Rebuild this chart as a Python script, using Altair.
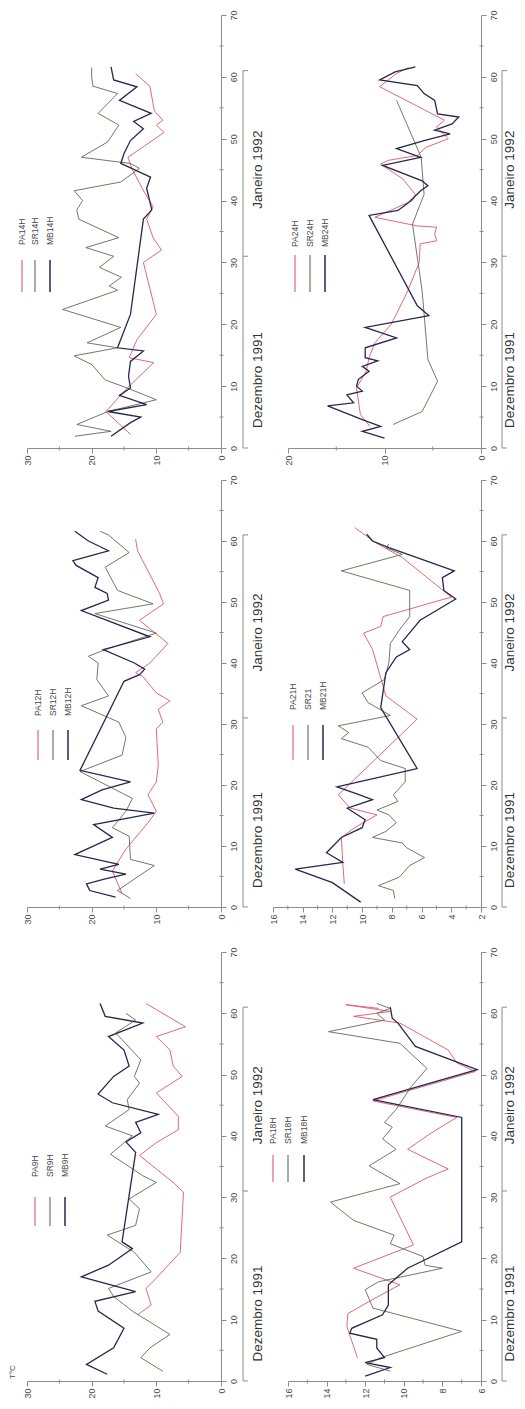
import altair as alt
import pandas as pd

# ----------------------------------------------------------------- data
# day of record (0 = 1 Dec 1991) and temperature (deg C)
# --- 9H ---
pa9_day = [10.8, 12.4, 15.1, 16.8, 21.0, 30.8, 32.4, 36.8, 38.9, 41.0, 43.2, 47.0, 49.7, 51.4, 54.0, 56.2, 57.8, 61.6]
pa9_t = [12.9, 10.8, 11.6, 10.0, 6.3, 5.8, 7.4, 12.6, 10.0, 6.6, 6.6, 10.0, 6.0, 7.4, 7.9, 10.0, 5.5, 11.6]
sr9_day = [1.6, 3.8, 5.4, 7.6, 11.4, 13.8, 15.1, 16.2, 17.8, 21.0, 23.8, 25.4, 28.1, 29.7, 32.4, 33.5, 37.0, 40.0,
           41.6, 44.3, 45.9, 48.6, 49.7, 52.4, 55.7, 56.8, 58.9, 60.0]
sr9_t = [9.0, 12.4, 11.0, 7.9, 13.7, 16.6, 17.4, 14.7, 10.8, 13.4, 17.6, 13.2, 12.6, 14.2, 10.0, 12.1, 17.1, 13.7,
         17.9, 14.2, 14.5, 12.6, 13.4, 12.4, 15.3, 16.3, 13.2, 14.7]
mb9_day = [1.1, 2.7, 5.4, 8.6, 11.4, 13.0, 14.6, 17.0, 18.9, 21.6, 22.7, 37.3, 39.0, 40.5, 42.2, 43.5, 45.4, 46.8,
           49.7, 51.4, 54.0, 56.2, 58.4, 59.5, 61.6]
mb9_t = [17.6, 20.8, 16.6, 15.0, 19.0, 19.5, 13.2, 21.6, 17.4, 13.7, 15.3, 13.2, 14.7, 12.4, 13.2, 9.7, 16.8, 19.0,
         16.6, 14.2, 15.0, 17.4, 12.1, 17.9, 18.7]
# --- 12H ---
pa12_day = [2.2, 5.9, 9.5, 13.8, 15.7, 18.4, 20.5, 23.2, 29.2, 30.3, 32.4, 33.8, 35.1, 37.8, 38.4, 40.0, 43.2, 47.0,
            49.7, 51.4, 58.4, 60.3]
pa12_t = [15.3, 16.8, 14.7, 11.3, 10.0, 11.3, 10.0, 9.7, 10.0, 9.0, 9.7, 7.9, 10.0, 12.1, 13.2, 11.0, 8.2, 12.6,
          8.9, 9.5, 12.9, 13.2]
sr12_day = [1.4, 2.7, 6.8, 7.8, 11.6, 13.0, 15.7, 17.8, 22.2, 24.9, 27.8, 30.3, 33.0, 34.6, 37.3, 40.0, 41.1, 42.2,
            44.9, 48.1, 49.7, 51.9, 55.7, 58.1, 61.0, 61.6]
sr12_t = [14.0, 16.0, 10.3, 14.0, 14.2, 16.8, 14.7, 13.7, 21.8, 15.3, 14.7, 15.8, 21.6, 17.4, 19.2, 19.0, 20.5, 17.9,
          10.0, 19.5, 10.5, 16.0, 17.9, 14.2, 17.4, 18.7]
mb12_day = [1.6, 2.7, 3.8, 4.6, 5.4, 6.2, 7.0, 8.6, 11.4, 13.5, 15.4, 16.2, 17.6, 19.2, 20.5, 22.4, 37.0, 38.1,
            39.0, 40.0, 42.2, 44.3, 48.6, 50.3, 51.4, 52.4, 54.0, 56.0, 56.8, 58.4, 60.0, 61.6]
mb12_t = [16.3, 20.3, 20.8, 17.9, 14.7, 18.7, 15.8, 22.6, 16.8, 19.7, 10.3, 16.6, 21.6, 18.4, 14.0, 21.8, 15.0, 12.6,
          11.8, 13.4, 18.2, 11.0, 21.6, 17.4, 17.6, 19.5, 19.0, 22.4, 22.9, 17.4, 20.5, 22.6]
# --- 14H ---
pa14_day = [2.2, 5.9, 9.7, 13.8, 14.6, 17.5, 21.6, 30.0, 32.0, 34.0, 37.0, 39.0, 42.0, 45.0, 47.0, 51.0, 52.2, 53.0,
            54.5, 58.5, 60.5]
pa14_t = [14.0, 17.8, 14.5, 10.4, 14.2, 13.0, 10.0, 12.0, 9.2, 10.5, 11.5, 10.5, 12.2, 13.7, 14.4, 8.8, 10.0, 9.0,
          10.3, 11.0, 13.2]
sr14_day = [1.9, 2.7, 3.8, 5.9, 7.8, 9.7, 11.0, 13.5, 14.9, 16.2, 17.0, 19.5, 22.4, 25.5, 26.2, 27.6, 29.2, 31.0,
            32.4, 34.0, 37.0, 38.5, 40.0, 41.6, 43.0, 45.2, 46.0, 47.0, 49.5, 52.2, 54.1, 57.3, 58.5, 60.0, 61.5]
sr14_t = [22.6, 17.0, 22.3, 17.5, 10.0, 14.5, 17.9, 20.0, 22.7, 16.0, 20.7, 15.5, 24.5, 16.0, 17.3, 15.4, 18.8, 16.6,
          20.9, 15.8, 22.0, 22.3, 21.4, 22.7, 15.5, 12.6, 14.0, 21.6, 17.5, 15.8, 19.0, 16.0, 19.8, 20.0, 20.0]
mb14_day = [1.9, 4.1, 5.0, 5.9, 7.0, 8.5, 9.7, 11.6, 14.0, 15.7, 16.2, 21.6, 37.0, 38.5, 42.0, 43.8, 46.0, 47.6,
            49.7, 51.6, 52.8, 54.1, 56.2, 58.4, 59.5, 61.6]
mb14_t = [17.0, 14.0, 12.4, 17.5, 11.5, 15.7, 14.0, 14.3, 14.0, 12.0, 16.0, 14.0, 12.0, 10.7, 11.5, 10.9, 15.5, 15.0,
          14.0, 12.0, 13.5, 10.8, 15.7, 13.0, 16.6, 17.0]
# --- 18H ---
pa18_day = [3.8, 8.9, 11.0, 13.5, 15.7, 18.4, 22.2, 30.0, 33.0, 34.6, 37.8, 40.0, 41.6, 43.0, 45.7, 50.5, 51.9, 54.0,
            58.4, 59.5, 60.3, 61.4, 60.8]
pa18_t = [12.4, 12.95, 12.9, 11.5, 10.2, 12.6, 9.5, 10.7, 8.9, 7.7, 9.8, 8.8, 8.0, 7.25, 11.6, 6.3, 7.25, 7.7,
          10.2, 12.6, 10.7, 13.0, 11.3]
sr18_day = [1.6, 2.7, 3.8, 8.1, 11.9, 14.9, 16.2, 18.4, 18.9, 20.3, 22.4, 23.8, 26.2, 29.2, 32.2, 35.1, 37.8, 39.5,
            41.4, 42.2, 44.3, 48.1, 51.0, 55.1, 57.0, 58.9, 60.0, 60.8, 61.6]
sr18_t = [10.7, 11.9, 11.2, 7.0, 11.6, 12.0, 11.3, 8.0, 8.9, 9.0, 10.7, 10.5, 12.6, 13.8, 10.2, 11.8, 10.4, 11.1,
          10.6, 11.0, 10.4, 9.6, 8.8, 10.2, 13.9, 11.0, 11.4, 10.7, 11.4]
mb18_day = [0.8, 2.2, 3.0, 3.8, 5.4, 6.8, 7.8, 8.6, 10.8, 12.4, 15.7, 18.4, 22.7, 43.0, 45.9, 50.8, 54.6, 58.4,
            59.2, 61.0]
mb18_t = [12.0, 10.7, 12.0, 11.0, 11.4, 11.4, 12.8, 12.7, 11.1, 10.8, 10.8, 9.8, 7.0, 7.0, 11.6, 6.2, 9.4, 10.3,
          10.6, 10.7]
# --- 21H ---
pa21_day = [3.8, 7.0, 11.4, 13.0, 15.1, 16.2, 18.4, 30.8, 34.6, 42.2, 44.9, 46.0, 47.6, 50.8, 57.3, 60.0, 60.8, 62.2]
pa21_t = [11.2, 11.3, 11.4, 10.5, 9.0, 10.8, 11.6, 6.3, 8.4, 9.3, 9.9, 8.75, 8.6, 4.0, 7.3, 9.3, 9.7, 10.5]
sr21_day = [1.4, 2.7, 3.5, 4.9, 6.8, 8.1, 9.7, 10.5, 11.4, 12.4, 13.8, 15.1, 15.9, 17.3, 18.4, 20.5, 22.7, 24.0,
            26.2, 27.6, 28.6, 29.7, 31.4, 33.5, 35.1, 37.3, 40.0, 43.2, 45.4, 47.6, 51.9, 55.1, 57.8, 58.9, 59.5]
sr21_t = [7.8, 7.9, 8.9, 7.5, 6.8, 5.8, 7.0, 7.3, 9.3, 8.4, 7.7, 8.2, 9.0, 7.6, 7.9, 7.1, 7.1, 8.75,
          9.6, 11.4, 10.9, 11.6, 8.1, 9.6, 10.0, 8.5, 8.2, 8.1, 7.5, 6.8, 6.8, 11.4, 7.3, 8.4, 8.2]
mb21_day = [0.8, 4.0, 6.2, 7.3, 8.9, 11.4, 13.0, 14.3, 16.2, 17.6, 18.6, 19.7, 22.7, 32.7, 38.4, 41.0, 42.2, 43.5,
            47.0, 50.5, 51.9, 54.0, 55.1, 58.9, 60.0, 61.1]
mb21_t = [10.1, 12.0, 14.5, 11.3, 12.4, 11.4, 10.0, 9.8, 11.0, 9.3, 10.4, 11.7, 6.3, 8.75, 8.4, 7.7, 6.8, 7.3,
          6.1, 3.7, 4.5, 4.6, 3.8, 8.2, 9.3, 9.7]
# --- 24H ---
pa24_day = [3.5, 5.4, 7.6, 9.7, 12.4, 14.6, 17.0, 20.0, 25.0, 30.0, 33.0, 33.5, 34.6, 35.7, 35.9, 37.3, 40.0, 41.0,
            43.5, 45.9, 46.5, 47.3, 48.6, 50.0, 51.9, 53.0, 58.4, 60.5, 61.5]
pa24_t = [11.5, 12.5, 12.7, 12.9, 11.9, 11.6, 11.0, 9.3, 7.7, 6.4, 6.3, 4.6, 4.8, 4.6, 6.6, 11.0, 7.1, 6.8,
          8.1, 10.4, 9.6, 6.6, 5.7, 3.4, 4.6, 3.8, 10.5, 8.8, 7.5]
sr24_day = [3.8, 5.9, 10.8, 14.3, 25.4, 36.2, 41.0, 47.0, 56.2]
sr24_t = [9.1, 6.1, 4.5, 5.5, 6.1, 7.1, 5.9, 6.2, 8.75]
mb24_day = [1.6, 2.7, 3.5, 4.6, 6.8, 7.3, 8.6, 9.2, 10.0, 11.1, 12.4, 13.2, 14.1, 14.6, 16.2, 17.8, 19.5, 21.4,
            23.0, 37.6, 38.4, 39.7, 41.6, 42.4, 43.2, 45.7, 47.0, 48.4, 49.7, 50.8, 51.4, 52.4, 53.5, 54.0, 56.2,
            57.3, 58.6, 59.5, 60.8, 61.6]
mb24_t = [10.0, 12.3, 10.4, 12.3, 15.9, 13.2, 13.9, 12.3, 12.9, 12.7, 11.6, 12.3, 10.7, 12.0, 12.0, 8.75, 12.0, 5.4,
          6.6, 11.6, 8.6, 7.5, 6.25, 5.5, 6.1, 10.2, 6.25, 8.75, 5.9, 3.2, 4.8, 3.0, 2.3, 4.5, 4.8,
          5.9, 6.6, 10.5, 8.9, 6.8]

MONTHS = ["Dezembro 1991", "Janeiro 1992"]
MONTH_DAY = [11, 45]
BRACKET_DAYS = [0, 31, 61]
DAY_MAJOR = [0, 10, 20, 30, 40, 50, 60, 70]
DAY_MINOR = [5, 15, 25, 35, 45, 55, 65]

# ----------------------------------------------------------------- style
FONT = "Liberation Sans"
COL = {"PA": "#e0566e", "SR": "#5f6a58", "MB": "#27264f"}
SW = {"PA": 0.9, "SR": 0.9, "MB": 1.3}
AXC = "#8c8c8c"
TXC = "#4a4a4a"


def panel(cfg):
    w, h = cfg["w"], cfg["h"]
    xo, yo = cfg.get("xo", 0), cfg.get("yo", 0)
    lo, hi = cfg["tdom"]
    xaxis = alt.Axis(values=cfg["tmajor"], orient="bottom", title=None, grid=False,
                     labelAngle=270, labelAlign="right", labelBaseline="middle",
                     labelPadding=2, labelFlush=False, labelOverlap=False,
                     tickSize=5, tickColor=AXC, domainColor=AXC,
                     labelColor=TXC, labelFont=FONT, labelFontSize=9)
    yaxis = alt.Axis(values=DAY_MAJOR, orient="right", title=None, grid=False,
                     labelAngle=270, labelAlign="center", labelBaseline="top",
                     labelPadding=3, labelFlush=False, labelOverlap=False,
                     tickSize=5, tickColor=AXC, domainColor=AXC,
                     labelColor=TXC, labelFont=FONT, labelFontSize=9)
    X = alt.X("t:Q", scale=alt.Scale(domain=[hi, lo], range=[xo, w], nice=False, zero=False), axis=xaxis)
    Y = alt.Y("d:Q", scale=alt.Scale(domain=[0, 70], range=[h, yo], nice=False, zero=False), axis=yaxis)

    layers = []
    for key, name, days, temps in cfg["series"]:
        df = pd.DataFrame({"d": days, "t": temps})
        df["i"] = range(len(df))
        layers.append(alt.Chart(df).mark_line(color=COL[key], strokeWidth=SW[key]).encode(
            x=X, y=Y, order=alt.Order("i:Q")))

    # minor ticks
    layers.append(alt.Chart(pd.DataFrame({"t": cfg["tminor"]})).mark_rule(color=AXC, strokeWidth=1).encode(
        x=X, y=alt.value(h - 1.5), y2=alt.value(h + 2.5)))
    layers.append(alt.Chart(pd.DataFrame({"d": DAY_MINOR})).mark_rule(color=AXC, strokeWidth=1).encode(
        y=Y, x=alt.value(w - 1.5), x2=alt.value(w + 2.5)))

    # month bracket
    bx, tx = cfg["bx"] + xo, cfg["tx"] + xo
    layers.append(alt.Chart(pd.DataFrame({"d": [BRACKET_DAYS[0]], "d2": [BRACKET_DAYS[-1]]})).mark_rule(
        color=AXC, strokeWidth=1).encode(x=alt.value(bx), y=Y, y2="d2:Q"))
    layers.append(alt.Chart(pd.DataFrame({"d": BRACKET_DAYS})).mark_rule(color=AXC, strokeWidth=1).encode(
        x=alt.value(bx), x2=alt.value(bx + 5), y=Y))
    layers.append(alt.Chart(pd.DataFrame({"d": MONTH_DAY, "lab": MONTHS})).mark_text(
        angle=270, font=FONT, fontSize=13.5, color="#333333", align="center", baseline="middle").encode(
        x=alt.value(tx), y=Y, text="lab:N"))

    # legend
    one = pd.DataFrame({"k": [0]})
    ly1, ly2 = cfg["ly"]
    for (key, name, _, _), lx in zip(cfg["series"], cfg["lx"]):
        layers.append(alt.Chart(one).mark_rule(color=COL[key], strokeWidth=SW[key] + 0.2).encode(
            x=alt.value(lx + xo), y=alt.value(ly1 + yo), y2=alt.value(ly2 + yo)))
        layers.append(alt.Chart(one).mark_text(angle=270, align="left", baseline="middle", font=FONT,
                                               fontSize=8.5, color=TXC).encode(
            x=alt.value(lx + xo), y=alt.value(cfg["ty"] + yo), text=alt.value(name)))

    if cfg.get("unit"):
        layers.append(alt.Chart(one).mark_text(angle=270, align="left", baseline="middle", font=FONT,
                                               fontSize=8, color=TXC).encode(
            x=alt.value(-14), y=alt.value(h - 2), text=alt.value(cfg["unit"])))
    if cfg.get("anchor"):
        layers.append(alt.Chart(one).mark_rule(color="white", opacity=0).encode(
            x=alt.value(-19), x2=alt.value(-18), y=alt.value(-7)))

    return alt.layer(*layers).properties(width=w, height=h)


T30 = dict(tdom=(0, 30), tmajor=[0, 10, 20, 30], tminor=[5, 15, 25])

p14 = panel(dict(T30, w=194, h=433, lx=[-5, 8, 23], ly=(245, 277), ty=230, bx=216, tx=231, anchor=True,
                 series=[("PA", "PA14H", pa14_day, pa14_t), ("SR", "SR14H", sr14_day, sr14_t),
                         ("MB", "MB14H", mb14_day, mb14_t)]))
p24 = panel(dict(tdom=(0, 20), tmajor=[0, 10, 20], tminor=[5, 15], w=208, xo=15, h=433,
                 lx=[7, 22, 37], ly=(240, 277), ty=232, bx=214, tx=222,
                 series=[("PA", "PA24H", pa24_day, pa24_t), ("SR", "SR24H", sr24_day, sr24_t),
                         ("MB", "MB24H", mb24_day, mb24_t)]))
p12 = panel(dict(T30, w=194, h=427, lx=[11, 26, 41], ly=(250, 280), ty=236, bx=216, tx=231,
                 series=[("PA", "PA12H", pa12_day, pa12_t), ("SR", "SR12H", sr12_day, sr12_t),
                         ("MB", "MB12H", mb12_day, mb12_t)]))
p21 = panel(dict(tdom=(2, 16), tmajor=[2, 4, 6, 8, 10, 12, 14, 16], tminor=[3, 5, 7, 9, 11, 13, 15],
                 w=208, h=427, lx=[20, 35, 50], ly=(245, 280), ty=230, bx=229, tx=237,
                 series=[("PA", "PA21H", pa21_day, pa21_t), ("SR", "SR21", sr21_day, sr21_t),
                         ("MB", "MB21H", mb21_day, mb21_t)]))
p9 = panel(dict(T30, w=194, h=442, yo=13, lx=[8, 23, 38], ly=(245, 274), ty=225, bx=216, tx=231,
                unit="T\u00b0C",
                series=[("PA", "PA9H", pa9_day, pa9_t), ("SR", "SR9H", sr9_day, sr9_t),
                        ("MB", "MB9H", mb9_day, mb9_t)]))
p18 = panel(dict(tdom=(6, 16), tmajor=[6, 8, 10, 12, 14, 16], tminor=[7, 9, 11, 13, 15],
                 w=208, xo=15, h=442, yo=13, lx=[-15, 0, 16], ly=(203, 230), ty=192, bx=214, tx=222,
                 series=[("PA", "PA18H", pa18_day, pa18_t), ("SR", "SR18H", sr18_day, sr18_t),
                         ("MB", "MB18H", mb18_day, mb18_t)]))

chart = alt.concat(p14, p24, p12, p21, p9, p18, columns=2,
                   spacing={"row": 32, "column": 52}, bounds="flush").properties(
    padding={"left": 0, "top": 0, "right": 0, "bottom": 0}
).configure(font=FONT).configure_view(stroke=None)

chart.save("out.html", embed_options={"renderer": "svg", "actions": False})
